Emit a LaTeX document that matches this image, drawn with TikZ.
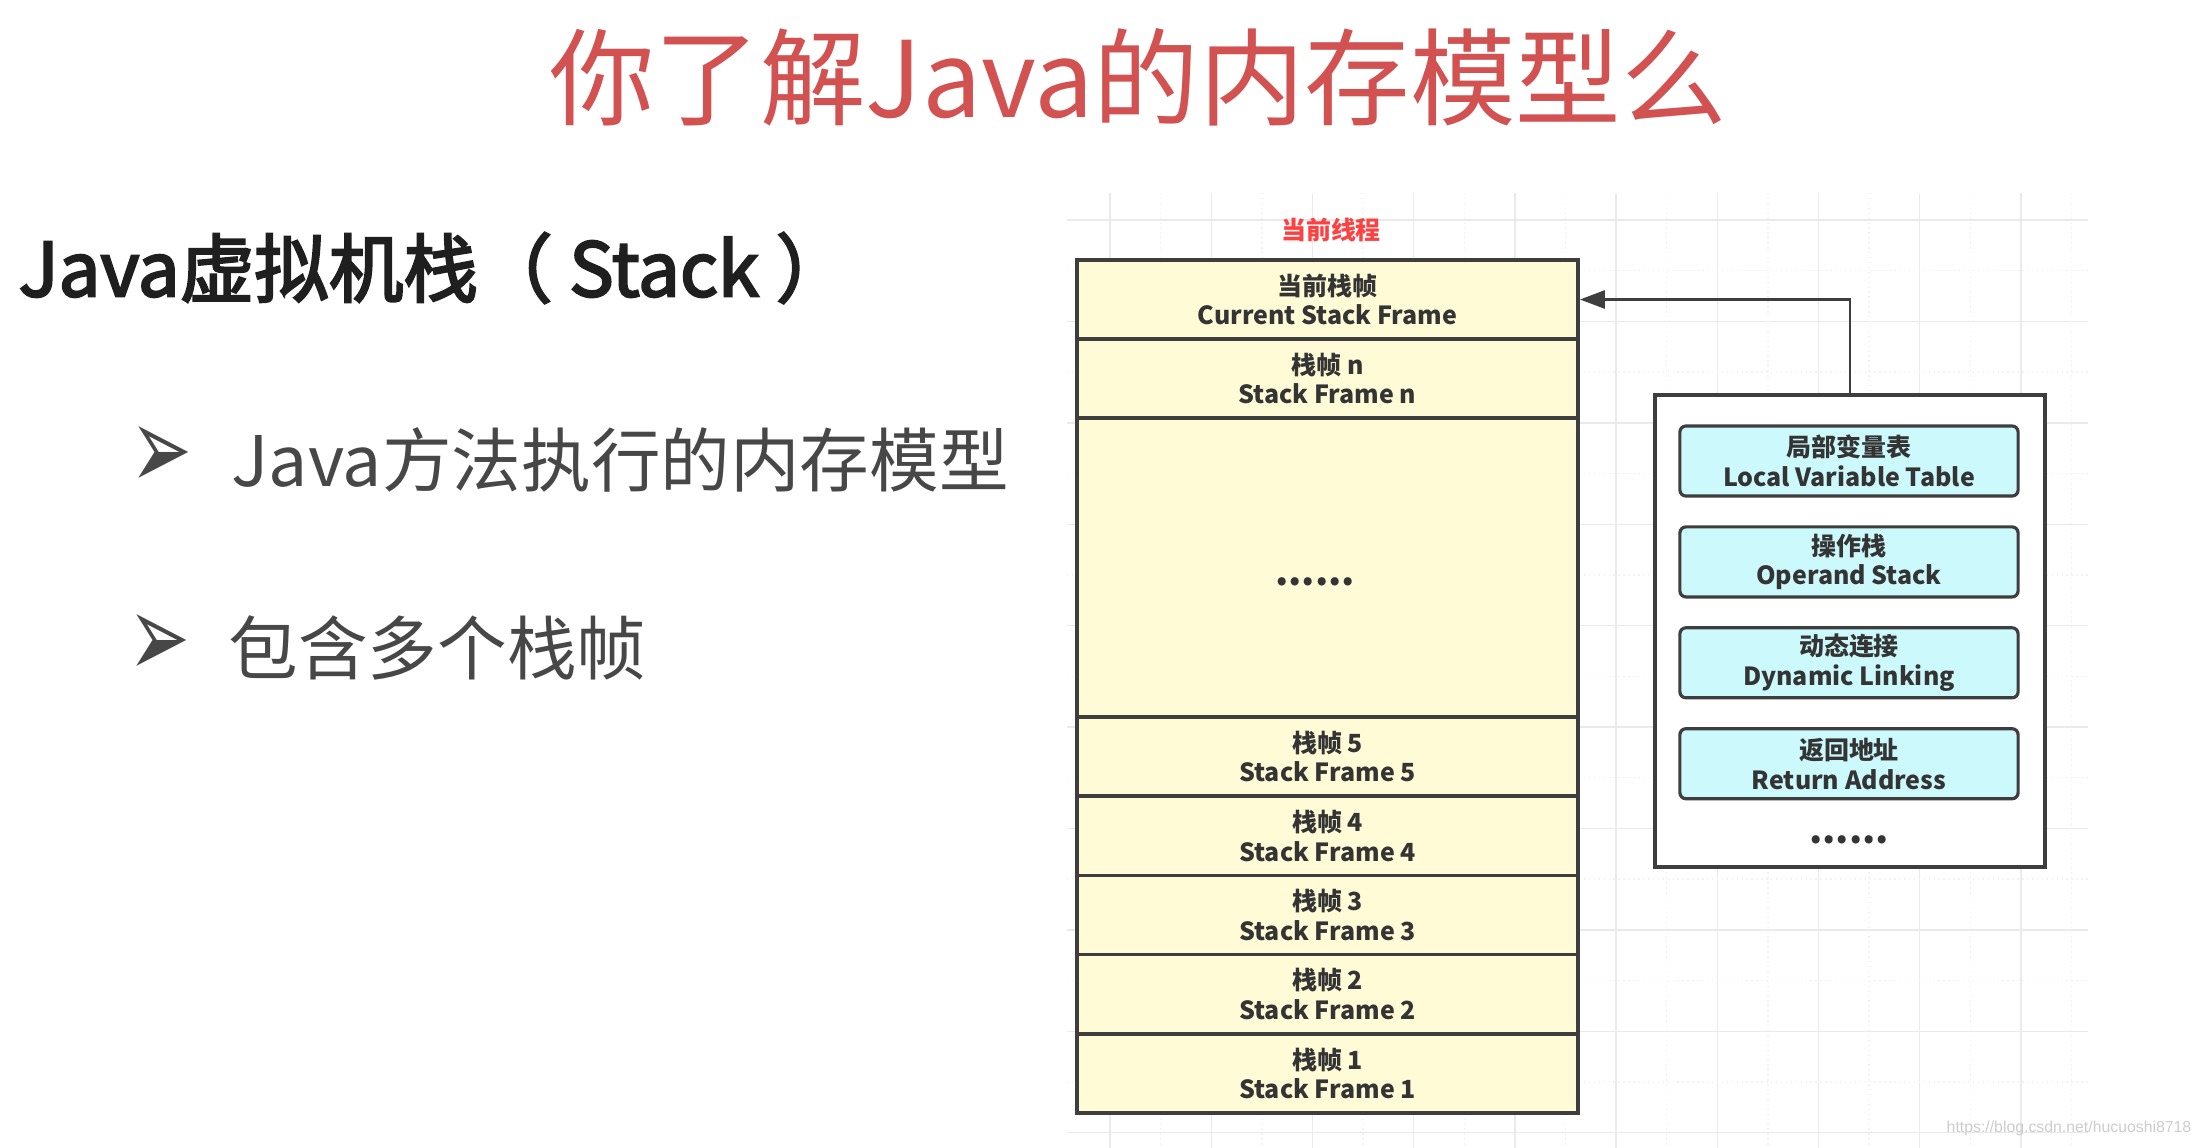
\documentclass[tikz,border=0pt]{standalone}
\usepackage{fontspec}
\usetikzlibrary{arrows.meta}
\setmainfont{Noto Sans CJK SC}
\newfontfamily\headfont[FakeBold=3]{Noto Sans CJK SC}
\newfontfamily\arrowfont{DejaVu Sans}
\newfontfamily\markfont{Liberation Sans}
\definecolor{titlered}{RGB}{210,82,82}
\definecolor{threadred}{RGB}{255,64,64}
\definecolor{framefill}{RGB}{255,251,214}
\definecolor{slotfill}{RGB}{204,249,252}
\definecolor{edge}{RGB}{62,62,62}
\definecolor{ink}{RGB}{52,52,52}
\definecolor{gridmajor}{RGB}{234,234,234}
\definecolor{gridminor}{RGB}{242,242,242}
\newcommand{\frameLabel}[2]{#1\\#2}

\tikzset{
  boxfont/.style={font=\bfseries\fontsize{7.1}{8.5}\selectfont},
  stackrow/.style={draw=edge, line width=1pt, fill=framefill, minimum width=5.01cm,
    minimum height=0.79cm, inner sep=0pt, align=center, text=ink, boxfont},
  slotbox/.style={draw=edge, line width=0.9pt, fill=slotfill, rounded corners=0.06cm,
    minimum width=3.38cm, minimum height=0.7cm, inner sep=0pt, align=center, text=ink, boxfont},
  dotrow/.style={text=ink, inner sep=0pt, font=\bfseries\fontsize{10.8}{12}\selectfont},
  bulletmark/.style={inner sep=0pt, text=black!72, font=\arrowfont\fontsize{21}{21}\selectfont},
  bullettext/.style={anchor=west, inner sep=0pt, text=black!72, font=\fontsize{19.8}{24}\selectfont},
  conn/.style={draw=edge, line width=0.8pt, -{Triangle[length=2.5mm,width=1.8mm]}}
}

\begin{document}
\begin{tikzpicture}
    \pgfsetxvec{\pgfpoint{0.01cm}{0}}
    \pgfsetyvec{\pgfpoint{0}{-0.01cm}}
    \useasboundingbox (0,0) rectangle (2202,1148);

    % faint grid behind the diagram
    \foreach \m in {0,...,9} {
      \draw[gridminor, densely dotted] ({1160.6+101.2*\m},193) -- ({1160.6+101.2*\m},1148);
      \draw[gridmajor] ({1110+101.2*\m},193) -- ({1110+101.2*\m},1148);
      \draw[gridmajor] (1067,{220+101.4*\m}) -- (2088,{220+101.4*\m});
    }
    \foreach \m in {0,...,8} {
      \draw[gridminor, densely dotted] (1067,{270.7+101.4*\m}) -- (2088,{270.7+101.4*\m});
    }

    \node[inner sep=0pt, text=titlered, font=\fontsize{30}{36}\selectfont] (title) at (1138,77) {你了解Java的内存模型么};
    \node[anchor=west, inner sep=0pt, text=black!88, font=\headfont\fontsize{21.2}{26}\selectfont] (heading) at (18,268) {Java虚拟机栈（ Stack ）};
    \node[bulletmark] (mark1) at (161,458) {\scalebox{1}[1.6]{➢}};
    \node[bullettext] (point1) at (231,460) {Java方法执行的内存模型};
    \node[bulletmark] (mark2) at (159,646) {\scalebox{1}[1.6]{➢}};
    \node[bullettext] (point2) at (228,648) {包含多个栈帧};

    % the stack of frames
    \node[inner sep=0pt, text=threadred, boxfont] (thread) at (1331,230) {当前线程};
    \node[stackrow] (frameCur) at (1327.5,299.5) {\frameLabel{当前栈帧}{Current Stack Frame}};
    \node[stackrow] (frameN) at (1327.5,378.5) {\frameLabel{栈帧 n}{Stack Frame n}};
    \node[stackrow, minimum height=2.99cm] (frameGap) at (1327.5,567.5) {};
    \node[dotrow] (gapDots) at (1315,582) {......};
    \foreach \k in {5,4,3,2,1} {
      \node[stackrow] (frame\k) at (1327.5,{756.5+79.25*(5-\k)}) {\frameLabel{栈帧 \k}{Stack Frame \k}};
    }

    % what one frame holds
    \node[draw=edge, line width=1pt, fill=white, minimum width=3.9cm, minimum height=4.72cm, inner sep=0pt] (panel) at (1850,631) {};
    \foreach \nm/\cn/\en [count=\i from 0] in {locals/局部变量表/Local Variable Table,
        operands/操作栈/Operand Stack, linking/动态连接/Dynamic Linking, retaddr/返回地址/Return Address} {
      \node[slotbox] (\nm) at (1849,{461+100.9*\i}) {\frameLabel{\cn}{\en}};
    }
    \node[dotrow] (panelDots) at (1849,840) {......};
    \draw[conn] (panel.north) |- (frameCur.east);

    \node[anchor=west, inner sep=0pt, text=black!20, font=\markfont\fontsize{4.5}{5}\selectfont] (wmark) at (1946,1128) {https://blog.csdn.net/hucuoshi8718};
\end{tikzpicture}
\end{document}
